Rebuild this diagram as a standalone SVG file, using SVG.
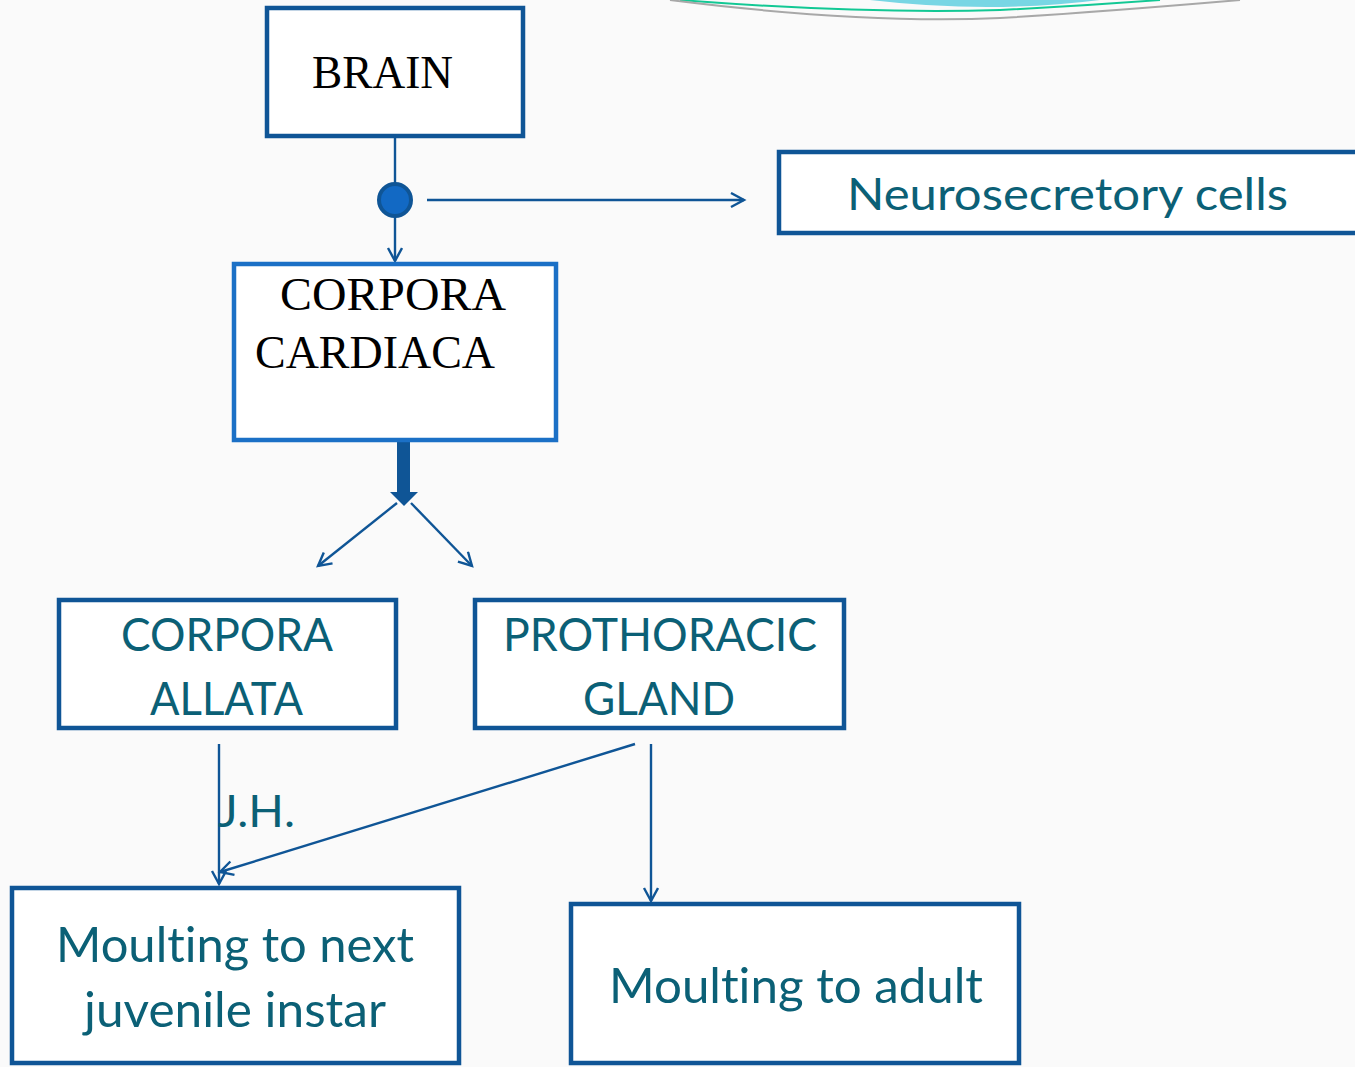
<svg xmlns="http://www.w3.org/2000/svg" width="1355" height="1067" viewBox="0 0 1355 1067">
<defs>
<style>
.box{fill:#ffffff;stroke:#0f5596;stroke-width:4.5}
.cc{fill:#ffffff;stroke:#1b70c6;stroke-width:4.5}
.serif{font-family:"Liberation Serif","Times New Roman",serif;fill:#000000}
.sans{font-family:Lato,"Open Sans",sans-serif;fill:#0b6076;font-variant-ligatures:none}
.ln{stroke:#0f5596;stroke-width:2.4;fill:none}
</style>
<marker id="open" markerWidth="20" markerHeight="20" refX="14" refY="8" orient="auto" markerUnits="userSpaceOnUse">
<path d="M1,1 L14,8 L1,15" fill="none" stroke="#0f5596" stroke-width="2.4"/>
</marker>
</defs>
<rect width="1355" height="1067" fill="#fafafa"/>
<g id="decor">
<path d="M870,0 Q990,14 1100,0 Z" fill="#78d6e4"/>
<path d="M680,0 Q860,14 1000,10 Q1080,6 1160,0" fill="none" stroke="#12c894" stroke-width="2"/>
<path d="M670,0 Q860,24 1000,18 Q1100,12 1240,0" fill="none" stroke="#a8a8a8" stroke-width="2"/>
</g>
<g id="connectors">
<line class="ln" x1="395" y1="136" x2="395" y2="184"/>
<line class="ln" x1="395" y1="216" x2="395" y2="261" marker-end="url(#open)"/>
<line class="ln" x1="427" y1="200" x2="744" y2="200" marker-end="url(#open)"/>
<rect x="397" y="442" width="13" height="52" fill="#0f5596"/>
<path d="M390,492 L418,492 L404,506 Z" fill="#0f5596"/>
<line class="ln" x1="397" y1="503" x2="318" y2="566" marker-end="url(#open)"/>
<line class="ln" x1="411" y1="503" x2="472" y2="566" marker-end="url(#open)"/>
<line class="ln" x1="219" y1="744" x2="219" y2="884" marker-end="url(#open)"/>
<line class="ln" x1="635" y1="744" x2="220" y2="872" marker-end="url(#open)"/>
<line class="ln" x1="651" y1="744" x2="651" y2="901" marker-end="url(#open)"/>
<circle cx="395" cy="200" r="16" fill="#1269c4" stroke="#0f5596" stroke-width="4"/>
<text class="sans" x="218" y="827" font-size="44" textLength="77" lengthAdjust="spacingAndGlyphs">J.H.</text>
</g>
<g id="brain">
<rect class="box" x="267" y="8" width="256" height="128"/>
<text class="serif" x="312" y="88" font-size="46" textLength="141" lengthAdjust="spacingAndGlyphs">BRAIN</text>
</g>
<g id="neurosecretory">
<rect class="box" x="779" y="152" width="590" height="81"/>
<text class="sans" x="847" y="210" font-size="44" textLength="441" lengthAdjust="spacingAndGlyphs">Neurosecretory cells</text>
</g>
<g id="corpora-cardiaca">
<rect class="cc" x="234" y="264" width="322" height="176"/>
<text class="serif" x="280" y="310" font-size="46" textLength="226" lengthAdjust="spacingAndGlyphs">CORPORA</text>
<text class="serif" x="255" y="368" font-size="46" textLength="240" lengthAdjust="spacingAndGlyphs">CARDIACA</text>
</g>
<g id="corpora-allata">
<rect class="box" x="59" y="600" width="337" height="128"/>
<text class="sans" x="121" y="651" font-size="46" textLength="212" lengthAdjust="spacingAndGlyphs">CORPORA</text>
<text class="sans" x="150" y="715" font-size="46" textLength="153" lengthAdjust="spacingAndGlyphs">ALLATA</text>
</g>
<g id="prothoracic-gland">
<rect class="box" x="475" y="600" width="369" height="128"/>
<text class="sans" x="503" y="651" font-size="46" textLength="314" lengthAdjust="spacingAndGlyphs">PROTHORACIC</text>
<text class="sans" x="583" y="715" font-size="46" textLength="152" lengthAdjust="spacingAndGlyphs">GLAND</text>
</g>
<g id="moult-juvenile">
<rect class="box" x="12" y="888" width="447" height="175"/>
<text class="sans" x="56" y="962" font-size="48" textLength="358" lengthAdjust="spacingAndGlyphs">Moulting to next</text>
<text class="sans" x="84" y="1027" font-size="48" textLength="302" lengthAdjust="spacingAndGlyphs">juvenile instar</text>
</g>
<g id="moult-adult">
<rect class="box" x="571" y="904" width="448" height="159"/>
<text class="sans" x="609" y="1003" font-size="48" textLength="374" lengthAdjust="spacingAndGlyphs">Moulting to adult</text>
</g>
</svg>
